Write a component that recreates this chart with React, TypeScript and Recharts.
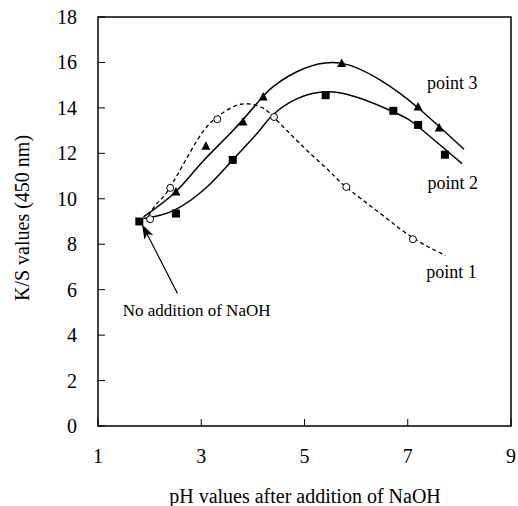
import React from 'react'
import {
  ComposedChart, Line, Scatter, XAxis, YAxis, ReferenceArea, ReferenceLine, ReferenceDot,
} from 'recharts'

// measured points
const point1Marks = [
  { x: 2.01, y: 9.1 }, { x: 2.4, y: 10.48 }, { x: 3.31, y: 13.5 },
  { x: 4.41, y: 13.6 }, { x: 5.81, y: 10.52 }, { x: 7.1, y: 8.22 },
]
const point2Marks = [
  { x: 1.8, y: 9.0 }, { x: 2.51, y: 9.35 }, { x: 3.61, y: 11.71 }, { x: 5.41, y: 14.56 },
  { x: 6.72, y: 13.87 }, { x: 7.2, y: 13.25 }, { x: 7.72, y: 11.94 },
]
const point3Marks = [
  { x: 2.51, y: 10.3 }, { x: 3.09, y: 12.31 }, { x: 3.81, y: 13.38 }, { x: 4.2, y: 14.48 },
  { x: 5.72, y: 15.95 }, { x: 7.2, y: 14.04 }, { x: 7.61, y: 13.12 },
]

// fitted curves
const point1Curve = [
  { x: 1.98, y: 9.25 }, { x: 2.14, y: 9.79 }, { x: 2.4, y: 10.52 }, { x: 2.92, y: 12.57 },
  { x: 3.31, y: 13.6 }, { x: 3.76, y: 14.16 }, { x: 4.15, y: 14.04 }, { x: 4.4, y: 13.6 },
  { x: 4.98, y: 12.28 }, { x: 5.5, y: 11.18 }, { x: 5.79, y: 10.55 }, { x: 6.47, y: 9.35 },
  { x: 7.12, y: 8.25 }, { x: 7.73, y: 7.51 },
]
const point2Curve = [
  { x: 1.88, y: 9.13 }, { x: 2.47, y: 9.49 }, { x: 3.11, y: 10.52 }, { x: 3.6, y: 11.69 },
  { x: 4.08, y: 12.87 }, { x: 4.37, y: 13.65 }, { x: 4.86, y: 14.41 }, { x: 5.7, y: 14.66 },
  { x: 6.73, y: 13.82 }, { x: 7.21, y: 13.16 }, { x: 8.05, y: 11.55 },
]
const point3Curve = [
  { x: 1.88, y: 9.2 }, { x: 2.5, y: 10.3 }, { x: 3.02, y: 11.62 }, { x: 3.56, y: 12.87 },
  { x: 4.08, y: 14.2 }, { x: 4.4, y: 14.95 }, { x: 4.98, y: 15.72 }, { x: 5.71, y: 15.97 },
  { x: 6.47, y: 15.22 }, { x: 7.18, y: 14.04 }, { x: 8.09, y: 12.18 },
]

const xTicks = [1, 3, 5, 7, 9]
const yTicks = [0, 2, 4, 6, 8, 10, 12, 14, 16, 18]

const seriesLabels = [
  { text: 'point 3', x: 7.86, y: 15.08 },
  { text: 'point 2', x: 7.87, y: 10.68 },
  { text: 'point 1', x: 7.85, y: 6.78 },
]
const note = { text: 'No addition of NaOH', x: 2.91, y: 5.09 }
const arrowFrom = { x: 2.54, y: 5.83 }
const arrowTo = { x: 1.853, y: 8.88 }

const FONT = 'Liberation Serif, Times New Roman, serif'
const txt = { fontFamily: FONT }

const Square = (p: any) => <rect x={p.cx - 4} y={p.cy - 4} width={8} height={8} fill="#000" />
const Triangle = (p: any) => (
  <polygon points={`${p.cx},${p.cy - 5} ${p.cx - 4.5},${p.cy + 3.5} ${p.cx + 4.5},${p.cy + 3.5}`} fill="#000" />
)
const Circle = (p: any) => <circle cx={p.cx} cy={p.cy} r={3.5} fill="#fff" stroke="#000" strokeWidth={1} />

const YTick = ({ x, y, payload }: any) => (
  <g>
    <line x1={x} x2={x + 7} y1={y} y2={y} stroke="#000" strokeWidth={1} />
    <text x={x - 21} y={y} dy={7} textAnchor="end" fontSize={20} style={txt} fill="#000">{payload.value}</text>
  </g>
)
const XTick = ({ x, y, payload }: any) => (
  <g>
    <line x1={x} x2={x} y1={y} y2={y - 7} stroke="#000" strokeWidth={1} />
    <text x={x} y={y + 37} textAnchor="middle" fontSize={20} style={txt} fill="#000">{payload.value}</text>
  </g>
)

const Arrow = (p: any) => {
  const { x1, y1, x2, y2 } = p
  const a = Math.atan2(y2 - y1, x2 - x1)
  const L = 15, W = 5, N = 11
  const bx = x2 - L * Math.cos(a), by = y2 - L * Math.sin(a)
  const nx = x2 - N * Math.cos(a), ny = y2 - N * Math.sin(a)
  const px = -Math.sin(a) * W, py = Math.cos(a) * W
  return (
    <g>
      <line x1={x1} y1={y1} x2={nx} y2={ny} stroke="#000" strokeWidth={1.2} />
      <polygon points={`${x2},${y2} ${bx + px},${by + py} ${nx},${ny} ${bx - px},${by - py}`} fill="#000" />
    </g>
  )
}

const textShape = (text: string, size: number) => (p: any) => (
  <text x={p.cx} y={p.cy} dy={size * 0.33} textAnchor="middle" fontSize={size} style={txt} fill="#000">{text}</text>
)

export default function App() {
  return (
    <div style={{ position: 'fixed', left: 0, top: 0, width: 518, height: 506, background: '#fff', fontFamily: FONT }}>
      <ComposedChart width={518} height={506} margin={{ top: 17, right: 7, bottom: 0, left: 0 }}>
        <XAxis
          dataKey="x" type="number" domain={[1, 9]} ticks={xTicks} allowDataOverflow
          height={80} tickSize={0} tickMargin={0} axisLine={false} tickLine={false} tick={<XTick />}
        />
        <YAxis
          type="number" domain={[0, 18]} ticks={yTicks} allowDataOverflow
          width={98} tickSize={0} tickMargin={0} axisLine={false} tickLine={false} tick={<YTick />}
        />
        <ReferenceArea x1={1} x2={9} y1={0} y2={18} fill="#fff" fillOpacity={0} stroke="#000" strokeWidth={1.5} />
        <Line data={point1Curve} dataKey="y" type="natural" stroke="#000" strokeWidth={1.3}
          strokeDasharray="4 3" dot={false} isAnimationActive={false} />
        <Line data={point2Curve} dataKey="y" type="natural" stroke="#000" strokeWidth={1.5}
          dot={false} isAnimationActive={false} />
        <Line data={point3Curve} dataKey="y" type="natural" stroke="#000" strokeWidth={1.5}
          dot={false} isAnimationActive={false} />
        <Scatter data={point1Marks} dataKey="y" shape={Circle} isAnimationActive={false} />
        <Scatter data={point3Marks} dataKey="y" shape={Triangle} isAnimationActive={false} />
        <Scatter data={point2Marks} dataKey="y" shape={Square} isAnimationActive={false} />
        <ReferenceLine segment={[arrowFrom, arrowTo]} shape={Arrow} ifOverflow="visible" />
        {seriesLabels.map((l) => (
          <ReferenceDot key={l.text} x={l.x} y={l.y} r={0} shape={textShape(l.text, 18)} ifOverflow="visible" />
        ))}
        <ReferenceDot x={note.x} y={note.y} r={0} shape={textShape(note.text, 17)} ifOverflow="visible" />
      </ComposedChart>
      <svg width={518} height={506} style={{ position: 'absolute', left: 0, top: 0, pointerEvents: 'none' }}>
        <text x={29} y={218} transform="rotate(-90 29 218)" textAnchor="middle" fontSize={20} style={txt} fill="#000">
          K/S values (450 nm)
        </text>
        <text x={305} y={503} textAnchor="middle" fontSize={20} style={txt} fill="#000">
          pH values after addition of NaOH
        </text>
      </svg>
    </div>
  )
}
